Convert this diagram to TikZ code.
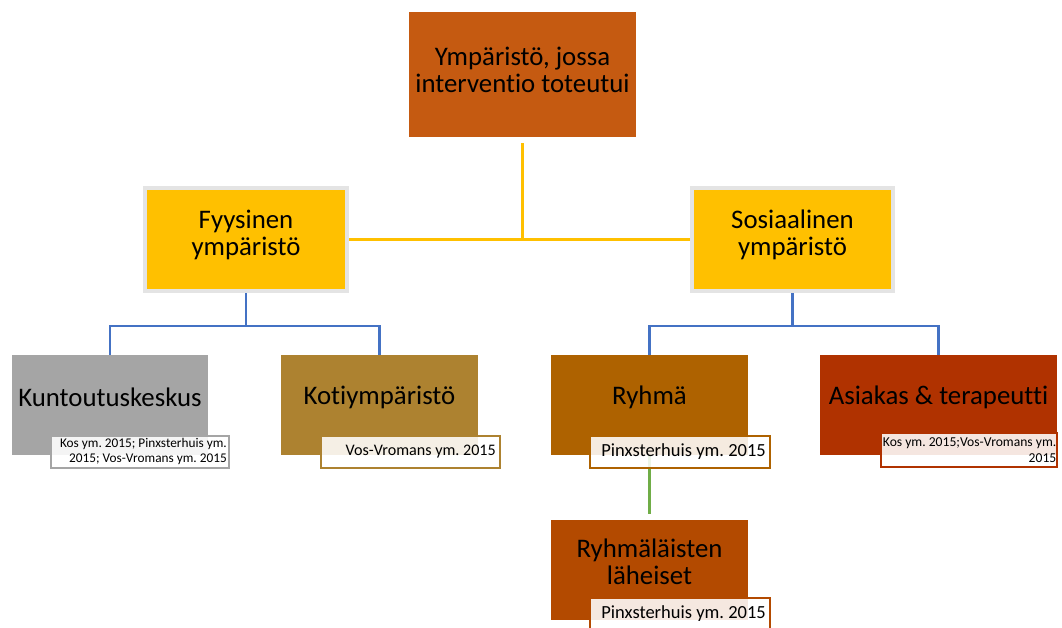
\documentclass[tikz,border=0pt]{standalone}
\usepackage{fontspec}
\setmainfont{Carlito}[Ligatures=NoCommon]
\frenchspacing
\definecolor{topc}{HTML}{C55A11}
\definecolor{yelc}{HTML}{FFC000}
\definecolor{frc}{HTML}{E4E4E4}
\definecolor{kuc}{HTML}{A5A5A5}
\definecolor{koc}{HTML}{AD8230}
\definecolor{ryc}{HTML}{AE6200}
\definecolor{asc}{HTML}{B03200}
\definecolor{rlc}{HTML}{B34A00}
\definecolor{bluc}{HTML}{4472C4}
\definecolor{grnc}{HTML}{70AD47}
\begin{document}
\begin{tikzpicture}[x=1pt,y=-1pt,
  box/.style={inner sep=0pt, minimum height=100pt, draw=none},
  big/.style={font=\fontsize{26.8}{27.5}\selectfont, align=center, inner sep=0pt},
  cite/.style={draw=#1, line width=2pt, fill=white, fill opacity=0.88, inner sep=0pt, anchor=center},
  ctxt/.style={inner sep=0pt, align=right, anchor=east},
  yline/.style={draw=yelc, line width=2.6pt},
  bline/.style={draw=bluc, line width=2.8pt},
  gline/.style={draw=grnc, line width=2.8pt}]
\useasboundingbox (0,0) rectangle (1062,628);
\begin{scope}
\clip (0,0) rectangle (1062,628);
% top
\node[box, fill=topc, minimum width=227pt, minimum height=125pt] (top) at (522.5,74.5) {};
\node[big] (toptxt) at (522.5,70) {Ympäristö, jossa\\interventio toteutui};
% second level
\node[box, fill=yelc, draw=frc, line width=4pt, minimum width=202pt, minimum height=103pt] (fy) at (246,239.5) {};
\node[big] (fytxt) at (246,235) {Fyysinen\\ympäristö};
\node[box, fill=yelc, draw=frc, line width=4pt, minimum width=201pt, minimum height=103pt] (so) at (792.5,239.5) {};
\node[big] (sotxt) at (792.5,235) {Sosiaalinen\\ympäristö};
% third level
\node[box, fill=kuc, minimum width=196pt] (ku) at (110,405) {};
\node[big] (kutxt) at (110,397) {Kuntoutuskeskus};
\node[box, fill=koc, minimum width=197pt] (ko) at (379.5,405) {};
\node[big] (kotxt) at (379.5,397) {Kotiympäristö};
\node[box, fill=ryc, minimum width=197pt] (ry) at (649.5,405) {};
\node[big] (rytxt) at (649.5,397) {Ryhmä};
\node[box, fill=asc, minimum width=237pt] (as) at (938.5,405) {};
\node[big] (astxt) at (938.5,397) {Asiakas \& terapeutti};
\node[box, fill=rlc, minimum width=197pt] (rl) at (649.5,570) {};
\node[big] (rltxt) at (649.5,562) {Ryhmäläisten\\läheiset};
% connectors
\draw[yline] ([yshift=-6pt]top.south) -- (top.south |- fy.east);
\draw[yline] (fy.east) -- (so.west);
\draw[bline] (fy.south) -- ++(0,33) coordinate (fyj) -| (ku.north);
\draw[bline] (fyj) -| (ko.north);
\draw[bline] (so.south) -- ++(0,33) coordinate (soj) -| (ry.north);
\draw[bline] (soj) -| (as.north);
\draw[gline, shorten >=6pt] (ry.south) -- (rl.north);
% citations
\node[cite=kuc, minimum width=178pt, minimum height=32pt] (kuc1) at (140,451.5) {};
\node[ctxt, font=\fontsize{13.3}{15}\selectfont] (kut) at ([xshift=-3pt]kuc1.east) {Kos ym. 2015; Pinxsterhuis ym.\\2015; Vos-Vromans ym. 2015};
\node[cite=koc, minimum width=179pt, minimum height=32pt] (koc1) at (410.5,452) {};
\node[ctxt, font=\fontsize{16.1}{18}\selectfont] (kot) at ([xshift=-5pt]koc1.east) {Vos-Vromans ym. 2015};
\node[cite=ryc, minimum width=180pt, minimum height=32pt] (ryc1) at (680,452) {};
\node[ctxt, font=\fontsize{18.5}{20}\selectfont] (ryt) at ([xshift=-5pt]ryc1.east) {Pinxsterhuis ym. 2015};
\node[cite=asc, minimum width=176pt, minimum height=34pt] (asc1) at (969,450) {};
\node[ctxt, font=\fontsize{13.6}{15.5}\selectfont] (ast) at ([xshift=-1.5pt]asc1.east) {Kos ym. 2015;Vos-Vromans ym.\\2015};
\node[cite=rlc, minimum width=180pt, minimum height=32pt] (rlc1) at (680,614) {};
\node[ctxt, font=\fontsize{18.5}{20}\selectfont] (rlt) at ([xshift=-5pt]rlc1.east) {Pinxsterhuis ym. 2015};
\end{scope}
\end{tikzpicture}
\end{document}
